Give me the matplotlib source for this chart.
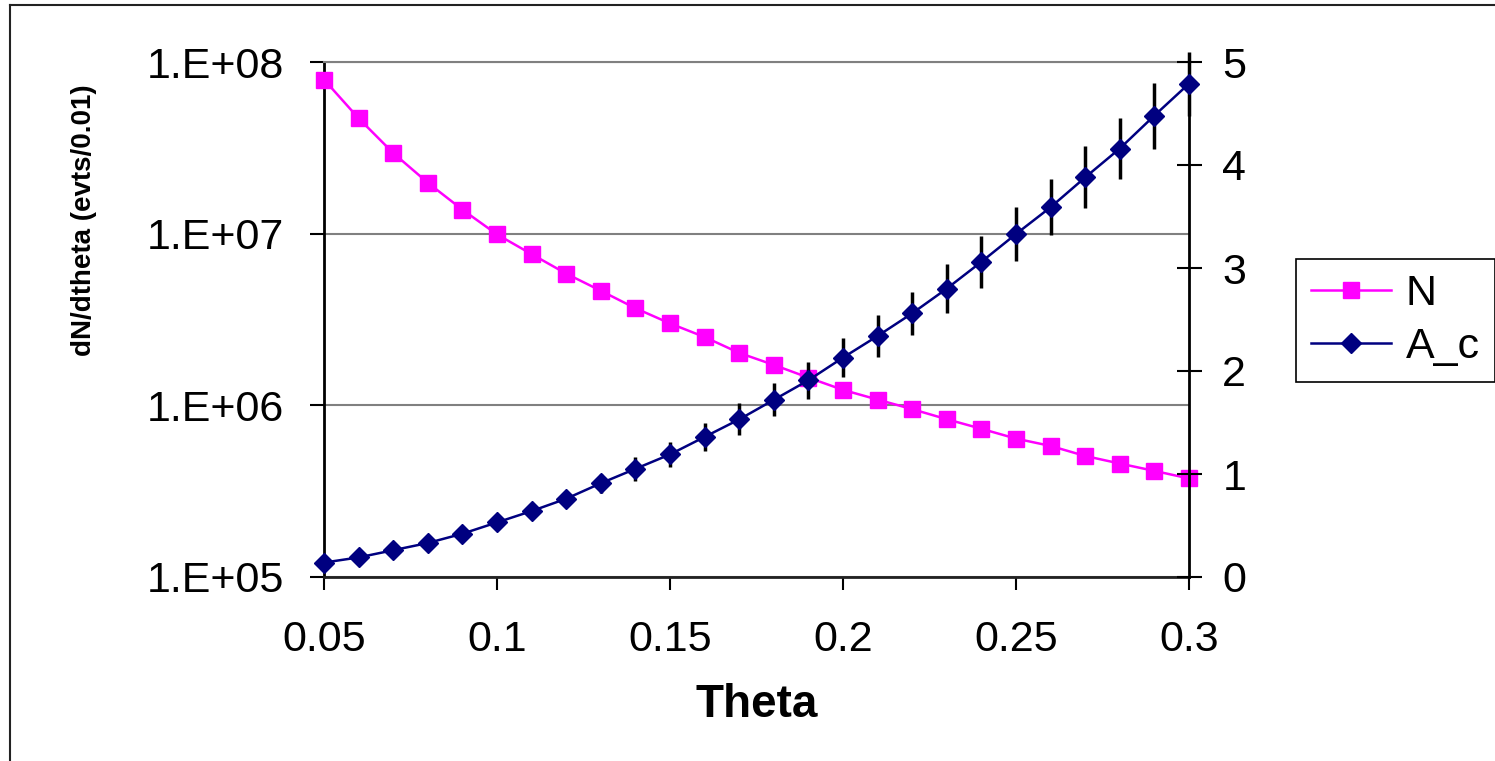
import matplotlib
matplotlib.use('Agg')
import matplotlib.pyplot as plt
from matplotlib import font_manager
from matplotlib.lines import Line2D
from matplotlib.ticker import FixedLocator, NullLocator, FuncFormatter
import numpy as np

theta = [0.05, 0.06, 0.07, 0.08, 0.09, 0.10, 0.11, 0.12, 0.13, 0.14, 0.15, 0.16, 0.17,
         0.18, 0.19, 0.20, 0.21, 0.22, 0.23, 0.24, 0.25, 0.26, 0.27, 0.28, 0.29, 0.30]
n_vals = [7.9e7, 4.7e7, 2.95e7, 1.98e7, 1.38e7, 9.9e6, 7.6e6, 5.85e6, 4.65e6, 3.68e6,
          3.0e6, 2.5e6, 2.02e6, 1.72e6, 1.45e6, 1.23e6, 1.08e6, 9.5e5, 8.3e5, 7.3e5,
          6.4e5, 5.8e5, 5.07e5, 4.58e5, 4.15e5, 3.75e5]
ac_vals = [0.14, 0.19, 0.26, 0.33, 0.42, 0.53, 0.64, 0.76, 0.91, 1.05, 1.19, 1.36, 1.53,
           1.72, 1.91, 2.13, 2.34, 2.56, 2.80, 3.06, 3.33, 3.59, 3.88, 4.16, 4.48, 4.79]
ac_err = [0.03, 0.035, 0.04, 0.045, 0.05, 0.055, 0.06, 0.075, 0.09, 0.115, 0.125, 0.14, 0.155,
          0.16, 0.18, 0.19, 0.20, 0.21, 0.24, 0.25, 0.26, 0.27, 0.30, 0.30, 0.32, 0.31]
xticks = [0.05, 0.10, 0.15, 0.20, 0.25, 0.30]
xticklabels = ['0.05', '0.1', '0.15', '0.2', '0.25', '0.3']
yticks_left = [1e5, 1e6, 1e7, 1e8]
yticks_right = [0, 1, 2, 3, 4, 5]
series_names = ['N', 'A_c']

names = {f.name for f in font_manager.fontManager.ttflist}
base_font = 'Liberation Sans' if 'Liberation Sans' in names else 'DejaVu Sans'
narrow = 'Liberation Sans Narrow' if 'Liberation Sans Narrow' in names else None
plt.rcParams['font.family'] = [base_font, 'DejaVu Sans']

TS = 31  # tick / legend font size

W, H = 1495, 761
fig = plt.figure(figsize=(W / 100, H / 100), dpi=100)
L, R, T, B = 324, 1189, 62, 577
ax = fig.add_axes([L / W, 1 - B / H, (R - L) / W, (B - T) / H])

ax.set_yscale('log')
ax.set_ylim(1e5, 1e8)
ax.set_xlim(0.05, 0.3)
ax.yaxis.set_major_locator(FixedLocator(yticks_left))
ax.yaxis.set_minor_locator(NullLocator())
ax.yaxis.set_major_formatter(FuncFormatter(lambda v, p: '1.E+%02d' % int(round(np.log10(v)))))
ax.set_xticks(xticks)
ax.set_xticklabels(xticklabels)
ax.grid(axis='y', color='#808080', lw=1.5)
ax.set_axisbelow(True)

ln_n, = ax.plot(theta, n_vals, color='#FF00FF', marker='s', ms=12, lw=1.8,
                clip_on=False, zorder=3)

ax.tick_params(axis='y', direction='out', length=10, width=1.5, labelsize=TS, pad=19)
ax.tick_params(axis='x', direction='out', length=9, width=1.5, labelsize=TS, pad=22)

ax.spines['top'].set_color('#808080')
ax.spines['top'].set_linewidth(1.5)
ax.spines['left'].set_color('black')
ax.spines['left'].set_linewidth(2)
ax.spines['bottom'].set_color('#222222')
ax.spines['bottom'].set_linewidth(2)
ax.spines['right'].set_visible(False)

ax2 = ax.twinx()
ax2.set_ylim(0, 5)
ax2.set_yticks(yticks_right)
eb = ax2.errorbar(theta, ac_vals, yerr=ac_err, color='#000080', ecolor='black',
                  elinewidth=2.5, capsize=0, marker='D', ms=10, lw=1.8, zorder=4)
for child in eb.get_children():
    child.set_clip_on(False)
ln_ac = eb.lines[0]
ax2.tick_params(axis='y', direction='inout', length=18, width=1.5, labelsize=TS, pad=15)
for s in ['top', 'left', 'bottom']:
    ax2.spines[s].set_visible(False)
ax2.spines['right'].set_color('black')
ax2.spines['right'].set_linewidth(2)

ax.set_xlabel('Theta', fontsize=33, fontweight='bold')
ax.xaxis.label.set_va('center')
ax.xaxis.set_label_coords(0.5, (B - 705) / (B - T))

if narrow:
    ax.set_ylabel('dN/dtheta (evts/0.01)', fontsize=24, fontweight='bold', family=narrow)
else:
    ax.set_ylabel('dN/dtheta (evts/0.01)', fontsize=20, fontweight='bold')
ax.yaxis.label.set_va('center')
ax.yaxis.set_label_coords((84 - L) / (R - L), (B - 220) / (B - T))

leg = fig.legend(handles=[ln_n, ln_ac], labels=series_names, loc='upper left',
                 bbox_to_anchor=(1296 / W, 1 - 259 / H), frameon=True, fancybox=False,
                 edgecolor='black', fontsize=TS, handlelength=1.85, handletextpad=0.35,
                 borderpad=0.35, labelspacing=0.3, borderaxespad=0, framealpha=1)
leg.get_frame().set_linewidth(1.2)

fig.add_artist(Line2D([9.5 / W, 9.5 / W], [0, 1 - 5 / H], transform=fig.transFigure,
                      color='#222222', lw=1.5))
fig.add_artist(Line2D([9.5 / W, 1], [1 - 5 / H, 1 - 5 / H], transform=fig.transFigure,
                      color='#222222', lw=1.5))

fig.savefig('out.png', dpi=100)
